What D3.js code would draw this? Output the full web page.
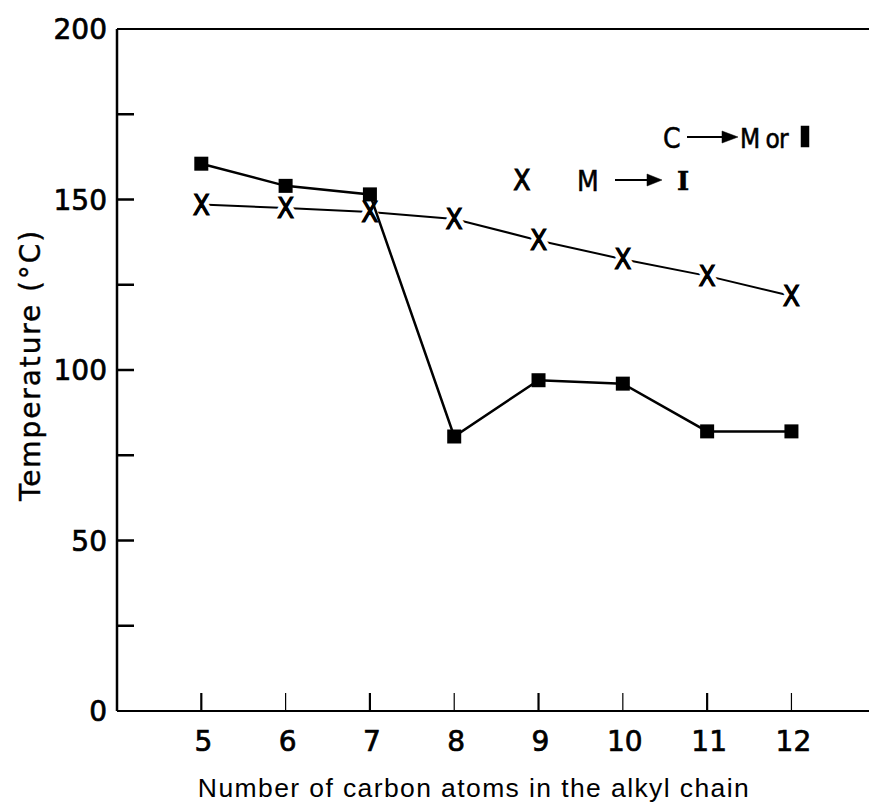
<!DOCTYPE html>
<html>
<head>
<meta charset="utf-8">
<script src="https://cdn.jsdelivr.net/npm/d3@7"></script>
<style>
body { margin: 0; background: white; }
</style>
</head>
<body>
<script>
// data
var carbons = [5, 6, 7, 8, 9, 10, 11, 12];
var tempCM = [160.5, 154, 151.5, 80.5, 97, 96, 82, 82];     // C -> M or I (squares)
var tempMI = [148.5, 147.5, 146.3, 144.3, 138, 132.5, 127.6, 121.7]; // M -> I (X)
var yTicksMajor = [0, 50, 100, 150, 200];
var yTicksMinor = [25, 75, 125, 175];

var w = 869, h = 808;
var plotLeft = 117, plotTop = 29, plotBottom = 711;

var x = d3.scaleLinear().domain([4, 12.92]).range([plotLeft, w]);
var y = d3.scaleLinear().domain([0, 200]).range([plotBottom, plotTop]);

const svg = d3.select("body").append("svg").attr("width", w).attr("height", h);

// frame: left axis, bottom axis, top line
svg.append("line").attr("x1", plotLeft).attr("x2", plotLeft).attr("y1", plotTop).attr("y2", plotBottom)
  .attr("stroke", "black").attr("stroke-width", 2.5);
svg.append("line").attr("x1", plotLeft).attr("x2", w).attr("y1", plotBottom).attr("y2", plotBottom)
  .attr("stroke", "black").attr("stroke-width", 2);
svg.append("line").attr("x1", plotLeft).attr("x2", w).attr("y1", plotTop).attr("y2", plotTop)
  .attr("stroke", "black").attr("stroke-width", 2);

// y ticks pointing inward
svg.selectAll(".yt").data(yTicksMajor.concat(yTicksMinor).filter(d => d > 0 && d < 200)).enter()
  .append("line").attr("x1", plotLeft).attr("x2", plotLeft + 17)
  .attr("y1", d => y(d)).attr("y2", d => y(d))
  .attr("stroke", "black").attr("stroke-width", 2.5);

svg.selectAll(".yl").data(yTicksMajor).enter().append("text")
  .attr("x", plotLeft - 10).attr("y", d => y(d) + 10)
  .attr("text-anchor", "end").attr("font-family", "DejaVu Sans").attr("font-size", 28)
  .attr("stroke", "black").attr("stroke-width", 0.7)
  .text(d => d);

// x ticks pointing up
svg.selectAll(".xt").data(carbons).enter().append("line")
  .attr("x1", d => x(d)).attr("x2", d => x(d)).attr("y1", plotBottom).attr("y2", plotBottom - 18)
  .attr("stroke", "black").attr("stroke-width", (d, i) => i % 2 ? 1.2 : 2.2);

svg.selectAll(".xl").data(carbons).enter().append("text")
  .attr("x", d => x(d) + 2).attr("y", plotBottom + 40)
  .attr("text-anchor", "middle").attr("font-family", "DejaVu Sans").attr("font-size", 28)
  .attr("stroke", "black").attr("stroke-width", 0.7)
  .text(d => d);

// axis titles
svg.append("text").attr("x", 474).attr("y", 797).attr("text-anchor", "middle")
  .attr("font-family", "Liberation Sans").attr("font-size", 26.5).attr("letter-spacing", 1.4)
  .text("Number of carbon atoms in the alkyl chain");

svg.append("text").attr("transform", "translate(40,365) rotate(-90)").attr("text-anchor", "middle")
  .attr("font-family", "DejaVu Sans").attr("font-size", 28).attr("letter-spacing", 1.9)
  .attr("stroke", "black").attr("stroke-width", 0.4)
  .text("Temperature (°C)");

var line = d3.line().x(d => x(d[0])).y(d => y(d[1]));

// M -> I series
var miData = carbons.map((c, i) => [c, tempMI[i]]);
svg.append("path").datum(miData).attr("d", line)
  .attr("fill", "none").attr("stroke", "black").attr("stroke-width", 2);
svg.selectAll(".xm").data(miData).enter().append("text")
  .attr("x", d => x(d[0])).attr("y", d => y(d[1]) + 10)
  .attr("text-anchor", "middle").attr("font-family", "DejaVu Sans Condensed, DejaVu Sans")
  .attr("font-size", 28)
  .attr("stroke", "white").attr("stroke-width", 10).attr("paint-order", "stroke")
  .attr("fill", "black").text("X");
svg.selectAll(".xm2").data(miData).enter().append("text")
  .attr("x", d => x(d[0])).attr("y", d => y(d[1]) + 10)
  .attr("text-anchor", "middle").attr("font-family", "DejaVu Sans Condensed, DejaVu Sans")
  .attr("font-size", 28)
  .attr("stroke", "black").attr("stroke-width", 1).attr("fill", "black").text("X");

// C -> M or I series
var cmData = carbons.map((c, i) => [c, tempCM[i]]);
svg.append("path").datum(cmData).attr("d", line)
  .attr("fill", "none").attr("stroke", "black").attr("stroke-width", 2.5);
svg.selectAll(".sq").data(cmData).enter().append("rect")
  .attr("x", d => x(d[0]) - 7).attr("y", d => y(d[1]) - 7)
  .attr("width", 14).attr("height", 14).attr("fill", "black");

// legend
var lg = svg.append("g").attr("font-family", "DejaVu Sans Condensed, DejaVu Sans").attr("font-size", 28)
  .attr("stroke", "black").attr("stroke-width", 0.5);
lg.append("text").attr("x", 663).attr("y", 148).text("C");
lg.append("line").attr("x1", 687).attr("x2", 725).attr("y1", 137).attr("y2", 137)
  .attr("stroke", "black").attr("stroke-width", 2);
lg.append("path").attr("d", "M722,131 L738,137 L722,143 Z").attr("fill", "black");
lg.append("text").attr("x", 740).attr("y", 148).attr("font-size", 26).attr("letter-spacing", -1).text("M or");
lg.append("rect").attr("x", 801).attr("y", 126).attr("width", 8).attr("height", 21).attr("fill", "black");

lg.append("text").attr("x", 522).attr("y", 190).attr("text-anchor", "middle")
  .attr("stroke-width", 1).text("X");
lg.append("text").attr("x", 577).attr("y", 191).text("M");
lg.append("line").attr("x1", 615).attr("x2", 650).attr("y1", 180).attr("y2", 180)
  .attr("stroke", "black").attr("stroke-width", 2);
lg.append("path").attr("d", "M647,174 L662,180 L647,186 Z").attr("fill", "black");
lg.append("text").attr("x", 683).attr("y", 190).attr("text-anchor", "middle")
  .attr("font-family", "DejaVu Serif").attr("font-weight", "bold").attr("font-size", 26).text("I");
</script>
</body>
</html>
